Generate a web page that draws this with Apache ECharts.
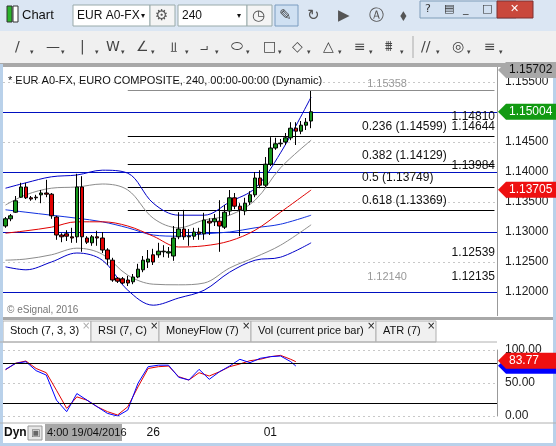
<!DOCTYPE html>
<html>
<head>
<meta charset="utf-8">
<script src="https://cdn.jsdelivr.net/npm/echarts@6/dist/echarts.min.js"></script>
<style>
  html, body { margin: 0; padding: 0; background: #fff; }
  #chart { width: 556px; height: 446px; }
</style>
</head>
<body>
<div id="chart"></div>
<script>
// 240-minute candles, [open, close, low, high]
const candles = [
  [1.1310,1.1322,1.1307,1.1325],[1.1322,1.1327,1.1318,1.1330],[1.1333,1.1352,1.1332,1.1360],
  [1.1358,1.1375,1.1357,1.1382],[1.1375,1.1357,1.1355,1.1382],[1.1357,1.1355,1.1352,1.1360],
  [1.1358,1.1357,1.1353,1.1362],[1.1362,1.1365,1.1348,1.1370],[1.1365,1.1363,1.1358,1.1387],
  [1.1363,1.1327,1.1322,1.1365],[1.1325,1.1295,1.1287,1.1327],[1.1295,1.1292,1.1283,1.1298],
  [1.1297,1.1293,1.1285,1.1303],[1.1292,1.1290,1.1282,1.1307],[1.1292,1.1375,1.1282,1.1397],
  [1.1375,1.1292,1.1267,1.1393],[1.1290,1.1283,1.1280,1.1293],[1.1282,1.1292,1.1277,1.1295],
  [1.1292,1.1290,1.1277,1.1302],[1.1290,1.1270,1.1265,1.1300],[1.1270,1.1255,1.1245,1.1273],
  [1.1253,1.1220,1.1217,1.1257],[1.1223,1.1218,1.1215,1.1225],[1.1222,1.1215,1.1213,1.1225],
  [1.1220,1.1215,1.1210,1.1227],[1.1217,1.1225,1.1213,1.1230],[1.1225,1.1238,1.1223,1.1247],
  [1.1237,1.1253,1.1233,1.1260],[1.1250,1.1255,1.1240,1.1270],[1.1262,1.1250,1.1245,1.1272],
  [1.1262,1.1268,1.1257,1.1282],[1.1267,1.1268,1.1258,1.1278],[1.1265,1.1267,1.1257,1.1275],
  [1.1260,1.1290,1.1252,1.1310],[1.1292,1.1305,1.1288,1.1333],[1.1305,1.1292,1.1287,1.1337],
  [1.1292,1.1293,1.1277,1.1305],[1.1293,1.1300,1.1287,1.1307],[1.1300,1.1297,1.1287,1.1307],
  [1.1297,1.1320,1.1287,1.1332],[1.1318,1.1315,1.1295,1.1323],[1.1317,1.1322,1.1310,1.1330],
  [1.1318,1.1310,1.1267,1.1353],[1.1308,1.1333,1.1305,1.1345],[1.1335,1.1357,1.1328,1.1370],
  [1.1357,1.1343,1.1338,1.1365],[1.1343,1.1337,1.1293,1.1348],[1.1335,1.1348,1.1328,1.1357],
  [1.1350,1.1362,1.1345,1.1368],[1.1362,1.1390,1.1358,1.1400],[1.1390,1.1378,1.1373,1.1403],
  [1.1378,1.1413,1.1375,1.1425],[1.1413,1.1440,1.1410,1.1458],[1.1440,1.1447,1.1437,1.1457],
  [1.1447,1.1448,1.1442,1.1455],[1.1450,1.1457,1.1445,1.1465],[1.1457,1.1473,1.1453,1.1483],
  [1.1473,1.1468,1.1445,1.1483],[1.1468,1.1478,1.1463,1.1485],[1.1478,1.1483,1.1470,1.1490],
  [1.1485,1.15004,1.1473,1.1535]
];

// overlay lines, read at these candle positions
const overlayIdx = [0, 4, 9, 14, 19, 24, 29, 34, 39, 44, 49, 54, 60];
const bbUpperBlue = [1.1373,1.1382,1.1392,1.1395,1.1403,1.1398,1.1348,1.1328,1.1328,1.1350,1.1373,1.1432,1.1525];
const bbUpperGray = [1.1345,1.1362,1.1373,1.1375,1.1380,1.1370,1.1323,1.1307,1.1320,1.1328,1.1353,1.1407,1.1453];
const bbMiddle    = [1.1337,1.1333,1.1328,1.1323,1.1317,1.1307,1.1295,1.1293,1.1297,1.1300,1.1307,1.1313,1.1328];
const maRed       = [1.1298,1.1302,1.1308,1.1317,1.1317,1.1310,1.1293,1.1275,1.1277,1.1285,1.1303,1.1333,1.1370];
const bbLowerGray = [1.1253,1.1255,1.1262,1.1273,1.1263,1.1228,1.1213,1.1212,1.1215,1.1240,1.1258,1.1278,1.1312];
const bbLowerBlue = [1.1242,1.1237,1.1250,1.1265,1.1253,1.1203,1.1178,1.1190,1.1203,1.1233,1.1253,1.1258,1.1282];

// stochastic (7,3,3), read at these candle positions
const stochIdx = [0,2,4,6,8,10,12,13,14,16,18,20,22,24,26,28,30,32,34,36,38,40,42,44,46,48,50,52,54,56,57];
const stochK = [70.7,79.8,82.3,68.7,62,24,6.6,20,34,24,14,4,0,9,49.5,74.7,77,77,58.6,54.5,70.7,55.6,67,75.7,85.9,80.8,87.4,89.9,90.9,82.3,75.7];
const stochD = [70,80,83.3,72,65.6,39,11.6,20,29,24,14,6.6,1.5,14,44,72,74.7,75.7,59.6,54.5,65.6,60.6,67,74.7,78.8,83.8,85.9,89.9,91.9,85.9,82.3];

// horizontal levels
const redLevel = 1.15702;
const blueLevels = [1.14810, 1.14644, 1.13984, 1.12539, 1.12135];
const fibLevels = [1.14599, 1.14129, 1.13749, 1.13369];
const fibRatios = ['0.236', '0.382', '0.5', '0.618'];
const fibHigh = 1.15358, fibLow = 1.12140;
const fibStart = 24;

const totalSlots = 97;
const dateLabels = { 29: '26', 52: '01' };
const categories = Array.from({ length: totalSlots }, (_, i) => dateLabels[i] || '');

function sparse(idx, vals) {
  const out = new Array(candles.length).fill(null);
  idx.forEach((k, j) => { out[k] = vals[j]; });
  return out;
}

const font = 'Liberation Sans';
const chart = echarts.init(document.getElementById('chart'));

const lineSeries = (data, color) => ({
  type: 'line', xAxisIndex: 0, yAxisIndex: 0, data: sparse(overlayIdx, data),
  connectNulls: true, smooth: 0.35, symbol: 'none', silent: true,
  lineStyle: { color: color, width: 1 }
});

const hLine = (v, color, startIdx) => startIdx == null
  ? { yAxis: v, lineStyle: { color: color, width: 1, type: 'solid' } }
  : [{ coord: [startIdx, v], lineStyle: { color: color, width: 1, type: 'solid' } }, { coord: [totalSlots - 1, v] }];

chart.setOption({
  animation: false,
  backgroundColor: '#ffffff',
  grid: [
    { left: 3, right: 59, top: 52, height: 270 },
    { left: 3, right: 59, top: 350, height: 66 }
  ],
  xAxis: [
    { type: 'category', gridIndex: 0, data: categories, boundaryGap: true,
      axisLine: { show: false }, axisTick: { show: false }, axisLabel: { show: false } },
    { type: 'category', gridIndex: 1, data: categories, boundaryGap: true,
      axisLine: { show: false }, axisTick: { show: false }, axisLabel: { show: false } }
  ],
  yAxis: [
    { type: 'value', gridIndex: 0, position: 'right', min: 1.115, max: 1.16, interval: 0.005,
      axisLine: { show: true, lineStyle: { color: '#999' } }, axisTick: { show: false },
      axisLabel: { margin: 8, color: '#222', fontFamily: font, fontSize: 12, formatter: v => v.toFixed(5) },
      splitLine: { lineStyle: { color: '#c8c8c8', type: [2, 3] } } },
    { type: 'value', gridIndex: 1, position: 'right', min: 0, max: 100, interval: 50,
      axisLine: { show: true, lineStyle: { color: '#999' } }, axisTick: { show: false },
      axisLabel: { margin: 8, color: '#222', fontFamily: font, fontSize: 12, formatter: v => v.toFixed(2) },
      splitLine: { lineStyle: { color: '#c8c8c8', type: [2, 3] } } }
  ],
  series: [
    lineSeries(bbUpperBlue, '#0000c8'),
    lineSeries(bbUpperGray, '#8c8c8c'),
    lineSeries(bbMiddle, '#1030e0'),
    lineSeries(maRed, '#e00000'),
    lineSeries(bbLowerGray, '#8c8c8c'),
    lineSeries(bbLowerBlue, '#0000c8'),
    {
      type: 'candlestick', xAxisIndex: 0, yAxisIndex: 0, data: candles, barWidth: 4, z: 5,
      itemStyle: { color: '#15961a', color0: '#e00000', borderColor: '#000', borderColor0: '#000', borderWidth: 1 },
      markLine: {
        silent: true, symbol: 'none', label: { show: false }, z: 1,
        data: [
          hLine(redLevel, '#e00000'),
          ...blueLevels.map(v => hLine(v, '#0010c0')),
          ...fibLevels.map(v => hLine(v, '#000', fibStart)),
          hLine(fibHigh, '#8c8c8c', fibStart)
        ]
      }
    },
    {
      type: 'line', xAxisIndex: 1, yAxisIndex: 1, data: sparse(stochIdx, stochD),
      connectNulls: true, symbol: 'none', lineStyle: { color: '#e00000', width: 1 },
      markLine: { silent: true, symbol: 'none', label: { show: false },
        data: [20, 80].map(v => ({ yAxis: v, lineStyle: { color: '#000', width: 1, type: 'solid' } })) }
    },
    {
      type: 'line', xAxisIndex: 1, yAxisIndex: 1, data: sparse(stochIdx, stochK),
      connectNulls: true, symbol: 'none', lineStyle: { color: '#0000ff', width: 1 }
    }
  ]
});

// ---- labels, tags and window chrome ----
const py = v => chart.convertToPixel({ yAxisIndex: 0 }, v);
const sy = v => chart.convertToPixel({ yAxisIndex: 1 }, v);
const px = i => chart.convertToPixel({ xAxisIndex: 0 }, i);
const g = [];
const txt = (x, y, s, o, z) => g.push({ type: 'text', x: x, y: y, z: z || 105,
  style: Object.assign({ text: s, font: '11px "' + font + '"', fill: '#111', textVerticalAlign: 'middle' }, o || {}) });
const rect = (x, y, w, h, fill, stroke) => g.push({ type: 'rect', z: 100,
  shape: { x: x, y: y, width: w, height: h }, style: { fill: fill, stroke: stroke || null, lineWidth: 1 } });
const seg = (x1, y1, x2, y2, c, w) => g.push({ type: 'line', z: 101,
  shape: { x1: x1, y1: y1, x2: x2, y2: y2 }, style: { stroke: c || '#333', lineWidth: w || 1 } });
const tag = (y, s, fill, color) => {
  const x0 = 498;
  g.push({ type: 'polygon', z: 102, shape: { points: [[x0, y], [x0 + 8, y - 8], [556, y - 8], [556, y + 8], [x0 + 8, y + 8]] },
    style: { fill: fill } });
  if (s) txt(x0 + 11, y, s, { fill: color, font: '12px "' + font + '"' }, 106);
};

// value labels on the price pane
const rlab = (v, s, c) => txt(495, py(v) - 7, s, { textAlign: 'right', fill: c || '#111', font: '12px "' + font + '"' }, 6);
rlab(1.15812, '1.15812');
blueLevels.forEach(v => rlab(v, v.toFixed(5)));
fibLevels.forEach((v, k) => txt(px(70), py(v) - 9, fibRatios[k] + ' (' + v.toFixed(5) + ')', { font: '12px "' + font + '"' }, 6));
txt(px(71), py(fibHigh) - 7, fibHigh.toFixed(5), { fill: '#999' }, 6);
txt(px(71), py(fibLow) - 7, fibLow.toFixed(5), { fill: '#999' }, 6);
txt(8, 81, '* EUR A0-FX, EURO COMPOSITE, 240, 00:00-00:00 (Dynamic)', {}, 6);
txt(7, 310, '\u00a9 eSignal, 2016', { fill: '#777', font: '10px "' + font + '"' }, 6);

// price tags
tag(py(redLevel), '1.15702', '#a8a8a8', '#111');
tag(py(1.15004), '1.15004', '#129a12', '#fff');
tag(py(1.13705), '1.13705', '#ee1010', '#fff');
tag(sy(76), '', '#0000ff', '#fff');
tag(sy(83.77), '83.77', '#ee1010', '#fff');

// top chrome
rect(0, 0, 556, 31, '#dbe6f3');
rect(0, 31, 556, 33, '#f0f0f0');
rect(0, 63, 556, 4, '#a8a8a8');
rect(7, 6, 5, 16, '#2bb32b', '#333');
rect(13, 6, 5, 16, '#fff', '#333');
txt(22, 15, 'Chart', { font: '13px "' + font + '"' });
rect(73, 5, 77, 21, '#fff', '#9aa');
txt(77, 16, 'EUR A0-FX', { font: '12px "' + font + '"' });
txt(141, 16, '\u25be', { font: '8px "' + font + '"' });
rect(150, 5, 25, 21, '#f4f4f4', '#9aa');
txt(155, 16, '\u2699', { font: '15px "DejaVu Sans"', fill: '#555' });
rect(178, 5, 69, 21, '#fff', '#9aa');
txt(182, 16, '240', { font: '12px "' + font + '"' });
txt(237, 16, '\u25be', { font: '8px "' + font + '"' });
rect(247, 5, 25, 21, '#f4f4f4', '#9aa');
txt(252, 16, '\u25f7', { font: '15px "DejaVu Sans"', fill: '#555' });
rect(275, 5, 23, 21, '#cfe0f2', '#7a9cc0');
txt(279, 16, '\u270e', { font: '15px "DejaVu Sans"', fill: '#444' });
['\u21bb', '\u25b6', '\u24b6', '\u2b27'].forEach((s, k) => txt(307 + k * 31, 16, s, { font: '15px "DejaVu Sans"', fill: '#555' }));
rect(420, 1, 96, 17, '#d3e1f1', '#7f9db9');
['?', '\u25a4', '_', '\u25a1'].forEach((s, k) => txt(425 + k * 19, 9, s, { font: '11px "DejaVu Sans"', fill: '#333' }));
rect(497, 1, 36, 17, '#c9483c', '#7f3030');
txt(510, 9, '\u2715', { font: '11px "DejaVu Sans"', fill: '#fff' });
['/', '\u2014', '|', 'W', '\u2220', '\u2aeb', '\u2a3c', '\u2b2d', '\u25a1', '\u25c7', '\u25b3', '\u2261', '\u2a69', '//', '\u25ce', '\u2261']
  .forEach((s, k) => {
    const x = [15, 46, 80, 106, 136, 170, 200, 231, 263, 292, 323, 354, 385, 421, 452, 484][k];
    txt(x, 47, s, { font: '14px "DejaVu Sans"', fill: '#444' });
    txt(x + 15, 52, '\u25be', { font: '7px "DejaVu Sans"', fill: '#444' });
  });
seg(413, 36, 413, 58, '#aaa');

// tab strip between panes
rect(0, 316, 556, 28, '#fff');
rect(0, 317, 556, 3, '#a8a8a8');
const tabs = [['Stoch (7, 3, 3)', 3, 91], ['RSI (7, C)', 91, 159], ['MoneyFlow (7)', 159, 251], ['Vol (current price bar)', 251, 376], ['ATR (7)', 376, 436]];
tabs.forEach((t, k) => {
  rect(t[1], 321, t[2] - t[1], 21, k === 0 ? '#fff' : '#f0f0f0', '#b0b0b0');
  txt(t[1] + 7, 331, t[0], { font: '11px "' + font + '"' });
  txt(t[2] - 9, 326, '\u00d7', { font: '10px "DejaVu Sans"', fill: k === 0 ? '#aaa' : '#222' });
});
seg(0, 342, 497, 342, '#b0b0b0');

// bottom bar
rect(0, 423, 556, 23, '#fff');
seg(0, 423, 556, 423, '#b0b0b0');
txt(4, 433, 'Dyn', { font: 'bold 12px "' + font + '"' });
rect(28, 426, 14, 14, '#e6e6e6', '#999');
txt(31, 433, '\u25a3', { font: '10px "DejaVu Sans"', fill: '#666' });
rect(45, 424, 77, 17, '#a8a8a8');
txt(47, 433, '4:00 19/04/2016', { font: '11px "' + font + '"' });
txt(px(29), 433, '26', { textAlign: 'center', font: '12px "' + font + '"' });
txt(px(52), 433, '01', { textAlign: 'center', font: '12px "' + font + '"' });

// window frame
rect(0, 64, 3, 382, '#b9d1ea');
rect(553, 64, 3, 382, '#b9d1ea');
rect(0, 443, 556, 3, '#b9d1ea');

chart.setOption({ graphic: g });
</script>
</body>
</html>
